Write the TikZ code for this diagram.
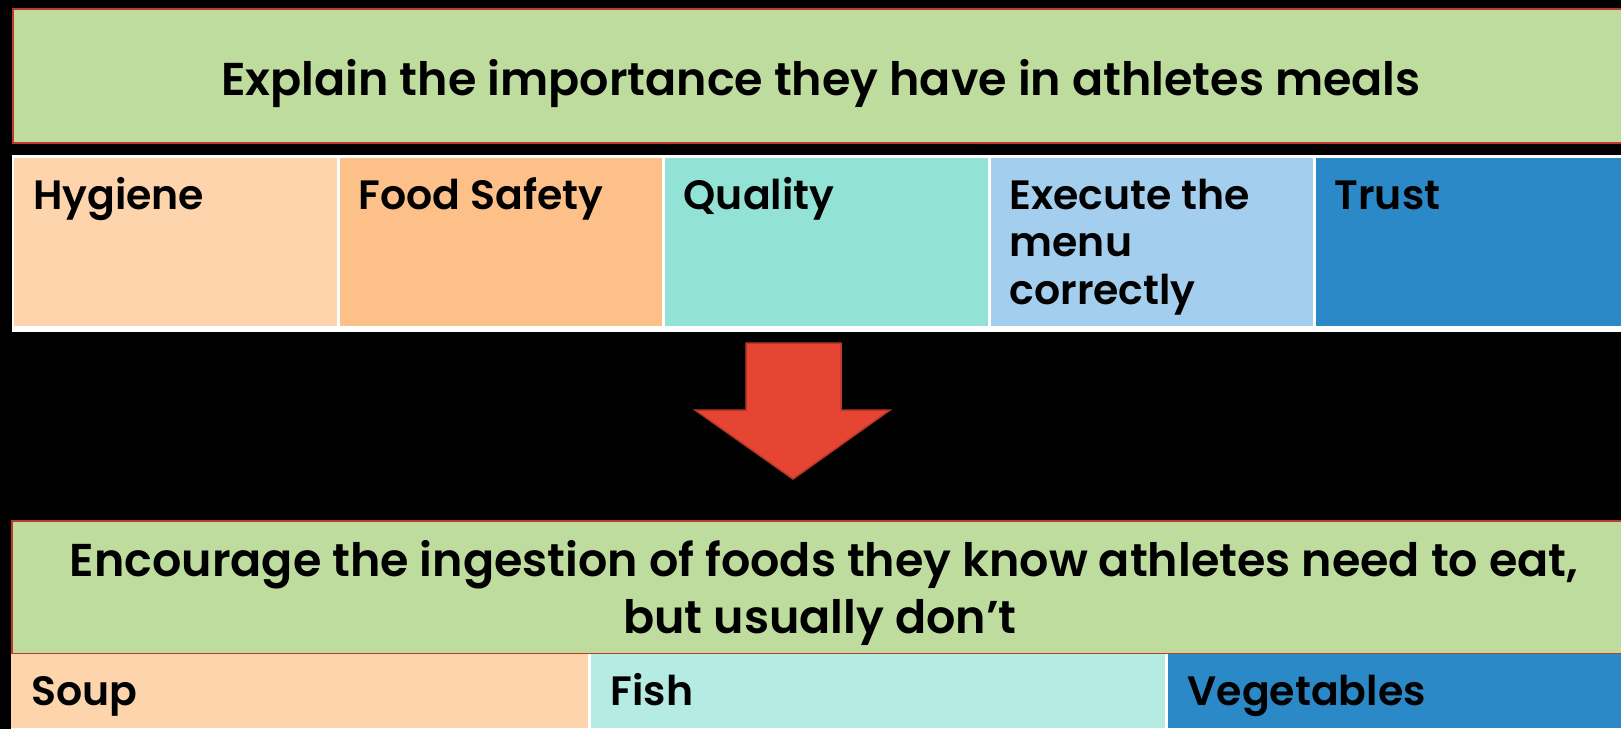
\documentclass[tikz,border=0pt]{standalone}
\usepackage{fontspec}
\setmainfont{Poppins}[BoldFont={Poppins SemiBold}]
\usetikzlibrary{calc}

\definecolor{bannergreen}{RGB}{191,220,159}
\definecolor{bannerred}{RGB}{192,57,43}
\definecolor{peach}{RGB}{254,212,172}
\definecolor{apricot}{RGB}{254,192,137}
\definecolor{aqua}{RGB}{146,226,213}
\definecolor{skyblue}{RGB}{163,206,238}
\definecolor{deepblue}{RGB}{42,137,198}
\definecolor{paleaqua}{RGB}{182,235,227}
\definecolor{arrowred}{RGB}{231,69,51}
\definecolor{arrowedge}{RGB}{184,56,40}

\tikzset{
  banner/.style={draw=bannerred, line width=2pt, fill=bannergreen, anchor=north west, inner sep=0pt},
  cellbox/.style={draw=none, anchor=north west, inner sep=0pt, minimum height=#1},
  cellbox/.default=168,
  titletext/.style={font=\fontsize{46}{57}\selectfont\bfseries, anchor=base, inner sep=0pt},
  celltext/.style={font=\fontsize{41}{47.5}\selectfont\bfseries, anchor=base west, inner sep=0pt, align=left},
}

\begin{document}
\begin{tikzpicture}[x=1pt,y=-1pt]
  % page
  \fill[black] (0,0) rectangle (1621,729);
  \useasboundingbox (0,0) rectangle (1621,729);

  % upper banner
  \node[banner, minimum width=1630, minimum height=134] (topbanner) at (12,8) {};
  \node[titletext] (toptitle) at (821,95) {Explain the importance they have in athletes meals};

  % upper row of cells on a white grid
  \node[fill=white, anchor=north west, inner sep=0pt, minimum width=1640, minimum height=177] (topgrid) at (12,155) {};
  \node[cellbox, fill=peach,    minimum width=322.5] (hyg)   at (14,158) {};
  \node[cellbox, fill=apricot,  minimum width=322]   (safe)  at (339.5,158) {};
  \node[cellbox, fill=aqua,     minimum width=323]   (qual)  at (664.5,158) {};
  \node[cellbox, fill=skyblue,  minimum width=322]   (menu)  at (990.5,158) {};
  \node[cellbox, fill=deepblue, minimum width=330]   (trust) at (1315.5,158) {};

  \node[celltext] (hygt)   at ($(hyg.north west)+(19,51)$)   {Hygiene};
  \node[celltext] (safet)  at ($(safe.north west)+(19,51)$)  {Food Safety};
  \node[celltext] (qualt)  at ($(qual.north west)+(19,51)$)  {Quality};
  % three lines: the base anchor sits on the last line
  \node[celltext] (menut)  at ($(menu.north west)+(19,146)$) {Execute the\\menu\\correctly};
  \node[celltext] (trustt) at ($(trust.north west)+(19,51)$) {Trust};

  % block arrow between the two groups
  \draw[fill=arrowred, draw=arrowedge, line width=1.5pt, line join=miter]
    (746,343) -- (841,343) -- (841,410) -- (890,410) -- (793,479)
    -- (695,410) -- (746,410) -- cycle;

  % lower banner
  \node[banner, minimum width=1630, minimum height=133] (lowbanner) at (11,520) {};
  \node[titletext] (lowtitlea) at (824,576) {Encourage the ingestion of foods they know athletes need to eat,};
  \node[titletext] (lowtitleb) at (820,633) {but usually don’t};

  % lower row of cells
  \node[fill=white, anchor=north west, inner sep=0pt, minimum width=1640, minimum height=80] (lowgrid) at (11,654) {};
  \node[cellbox=74, fill=peach,    minimum width=576.5] (soup) at (11,654) {};
  \node[cellbox=74, fill=paleaqua, minimum width=574]   (fish) at (590.5,654) {};
  \node[cellbox=74, fill=deepblue, minimum width=480]   (veg)  at (1167.5,654) {};

  \node[celltext] (soupt) at ($(soup.north west)+(20,51)$) {Soup};
  \node[celltext] (fisht) at ($(fish.north west)+(20,51)$) {Fish};
  \node[celltext] (vegt)  at ($(veg.north west)+(20,51)$)  {Vegetables};
\end{tikzpicture}
\end{document}
